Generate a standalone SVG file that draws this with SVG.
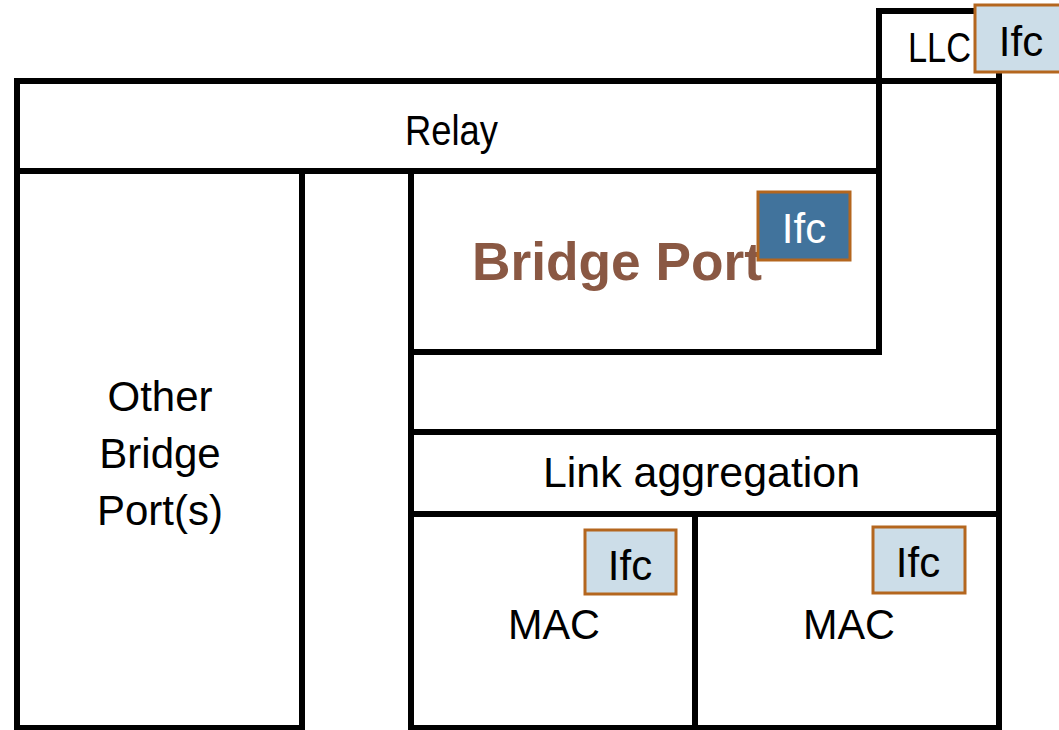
<svg xmlns="http://www.w3.org/2000/svg" width="1059" height="730" viewBox="0 0 1059 730">
<style>
.box{fill:#ffffff;stroke:#000000;stroke-width:6;stroke-linejoin:miter}
.ln{fill:none;stroke:#000000;stroke-width:6}
.t{font-family:"Liberation Sans",Arial,sans-serif;font-size:42px;fill:#000000}
.ifc{fill:#CCDDE8;stroke:#B4661E;stroke-width:3}
.ifcd{fill:#41739C;stroke:#B4661E;stroke-width:3}
.bp{font-family:"Liberation Sans",Arial,sans-serif;font-size:54px;font-weight:bold;fill:#8A5843}
</style>
<rect width="1059" height="730" fill="#ffffff"/>
<g id="frame">
<rect class="box" x="879" y="11" width="120" height="70"/>
<path class="ln" d="M999 81 V728 M411 352 V432"/>
</g>
<g id="relay">
<rect class="box" x="17" y="81" width="862" height="90"/>
<text class="t" x="405" y="145" textLength="93" lengthAdjust="spacingAndGlyphs">Relay</text>
</g>
<g id="llc">
<text class="t" x="908" y="62" textLength="63" lengthAdjust="spacingAndGlyphs">LLC</text>
</g>
<g id="llc-ifc">
<rect class="ifc" x="975" y="5" width="92" height="67"/>
<text class="t" x="1021" y="56" text-anchor="middle">Ifc</text>
</g>
<g id="other-ports">
<rect class="box" x="17" y="171" width="285" height="557"/>
<text class="t" x="160" y="411" text-anchor="middle">Other</text>
<text class="t" x="160" y="468" text-anchor="middle">Bridge</text>
<text class="t" x="160" y="525" text-anchor="middle">Port(s)</text>
</g>
<g id="bridge-port">
<rect class="box" x="411" y="171" width="468" height="181"/>
<text class="bp" x="472" y="280" textLength="290" lengthAdjust="spacingAndGlyphs">Bridge Port</text>
</g>
<g id="bridge-port-ifc">
<rect class="ifcd" x="758" y="192" width="92" height="68"/>
<text class="t" x="804" y="243" text-anchor="middle" fill="#ffffff" style="fill:#ffffff">Ifc</text>
</g>
<g id="link-aggregation">
<rect class="box" x="411" y="432" width="588" height="82"/>
<text class="t" x="543" y="487" textLength="317" lengthAdjust="spacingAndGlyphs">Link aggregation</text>
</g>
<g id="mac1">
<rect class="box" x="411" y="514" width="284" height="214"/>
<text class="t" x="508" y="639" textLength="92" lengthAdjust="spacingAndGlyphs">MAC</text>
</g>
<g id="mac1-ifc">
<rect class="ifc" x="585" y="530" width="91" height="64"/>
<text class="t" x="630" y="580" text-anchor="middle">Ifc</text>
</g>
<g id="mac2">
<rect class="box" x="695" y="514" width="304" height="214"/>
<text class="t" x="803" y="639" textLength="92" lengthAdjust="spacingAndGlyphs">MAC</text>
</g>
<g id="mac2-ifc">
<rect class="ifc" x="873" y="527" width="92" height="66"/>
<text class="t" x="918" y="577" text-anchor="middle">Ifc</text>
</g>
<g id="connectors"/>
</svg>
